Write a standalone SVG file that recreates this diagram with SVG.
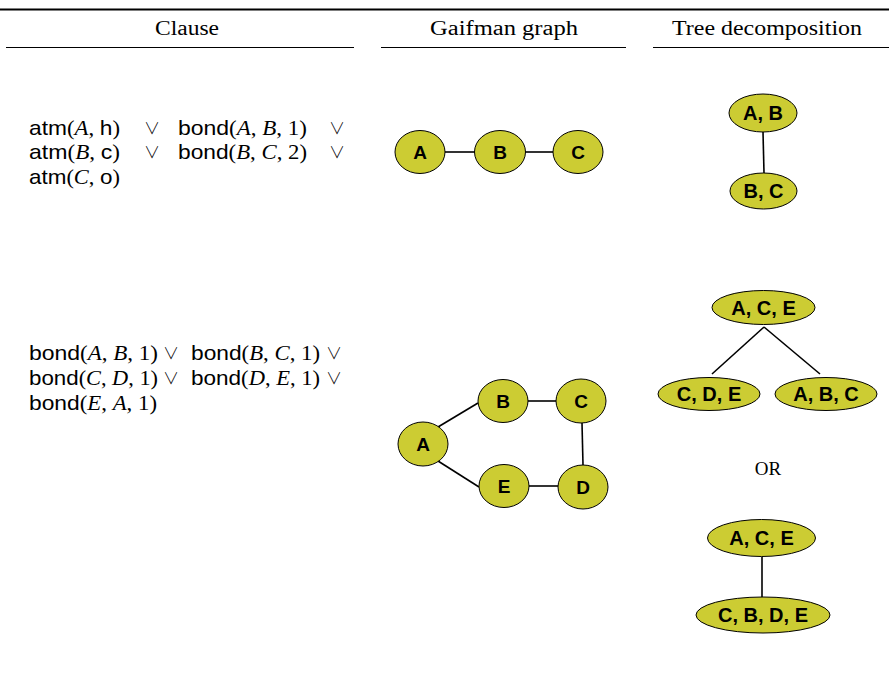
<svg xmlns="http://www.w3.org/2000/svg" width="889" height="673" viewBox="0 0 889 673">
  <style>
    .rule { stroke: #000; stroke-width: 1; }
    .head { font-family: "Liberation Serif", serif; font-size: 20px; fill: #000; text-anchor: middle; }
    .cl text { font-size: 21px; fill: #000; }
    .sf { font-family: "Liberation Sans", sans-serif; }
    .rm { font-family: "Liberation Serif", serif; }
    .it { font-family: "Liberation Serif", serif; font-style: italic; }
    .cl text.or { font-family: "Noto Sans CJK JP", "DejaVu Sans", sans-serif; font-weight: 300; font-size: 16px; text-anchor: middle; }
    .node ellipse { fill: #cccc33; stroke: #000; stroke-width: 1; }
    .node text { font-family: "Liberation Sans", Arial, sans-serif; font-weight: bold; font-size: 19px; fill: #000; text-anchor: middle; }
    .tnode text { font-size: 20px; }
    .edges line { stroke: #000; stroke-width: 1.6; }
  </style>

  <!-- table rules -->
  <line x1="0" y1="9.5" x2="889" y2="9.5" stroke="#000" stroke-width="2"/>
  <line class="rule" x1="6" y1="47.5" x2="354" y2="47.5"/>
  <line class="rule" x1="381" y1="47.5" x2="626" y2="47.5"/>
  <line class="rule" x1="653" y1="47.5" x2="889" y2="47.5"/>

  <!-- column headers -->
  <text class="head" x="187" y="35" textLength="64" lengthAdjust="spacingAndGlyphs">Clause</text>
  <text class="head" x="504" y="35" textLength="148" lengthAdjust="spacingAndGlyphs">Gaifman graph</text>
  <text class="head" x="767" y="35" textLength="190" lengthAdjust="spacingAndGlyphs">Tree decomposition</text>

  <!-- clause 1 -->
  <g id="clause1" class="cl">
    <text x="29" y="135" textLength="91" lengthAdjust="spacingAndGlyphs"><tspan class="sf">atm</tspan><tspan class="rm">(</tspan><tspan class="it">A</tspan><tspan class="rm">, </tspan><tspan class="sf">h</tspan><tspan class="rm">)</tspan></text>
    <text x="152" y="134" class="or">∨</text>
    <text x="178" y="135" textLength="129" lengthAdjust="spacingAndGlyphs"><tspan class="sf">bond</tspan><tspan class="rm">(</tspan><tspan class="it">A</tspan><tspan class="rm">, </tspan><tspan class="it">B</tspan><tspan class="rm">, 1)</tspan></text>
    <text x="337" y="134" class="or">∨</text>

    <text x="29" y="159" textLength="91" lengthAdjust="spacingAndGlyphs"><tspan class="sf">atm</tspan><tspan class="rm">(</tspan><tspan class="it">B</tspan><tspan class="rm">, </tspan><tspan class="sf">c</tspan><tspan class="rm">)</tspan></text>
    <text x="152" y="158" class="or">∨</text>
    <text x="178" y="159" textLength="129" lengthAdjust="spacingAndGlyphs"><tspan class="sf">bond</tspan><tspan class="rm">(</tspan><tspan class="it">B</tspan><tspan class="rm">, </tspan><tspan class="it">C</tspan><tspan class="rm">, 2)</tspan></text>
    <text x="337" y="158" class="or">∨</text>

    <text x="29" y="184" textLength="91" lengthAdjust="spacingAndGlyphs"><tspan class="sf">atm</tspan><tspan class="rm">(</tspan><tspan class="it">C</tspan><tspan class="rm">, </tspan><tspan class="sf">o</tspan><tspan class="rm">)</tspan></text>
  </g>

  <!-- clause 2 -->
  <g id="clause2" class="cl">
    <text x="29" y="360" textLength="129" lengthAdjust="spacingAndGlyphs"><tspan class="sf">bond</tspan><tspan class="rm">(</tspan><tspan class="it">A</tspan><tspan class="rm">, </tspan><tspan class="it">B</tspan><tspan class="rm">, 1)</tspan></text>
    <text x="171" y="359" class="or">∨</text>
    <text x="191" y="360" textLength="129" lengthAdjust="spacingAndGlyphs"><tspan class="sf">bond</tspan><tspan class="rm">(</tspan><tspan class="it">B</tspan><tspan class="rm">, </tspan><tspan class="it">C</tspan><tspan class="rm">, 1)</tspan></text>
    <text x="334" y="359" class="or">∨</text>

    <text x="29" y="385" textLength="129" lengthAdjust="spacingAndGlyphs"><tspan class="sf">bond</tspan><tspan class="rm">(</tspan><tspan class="it">C</tspan><tspan class="rm">, </tspan><tspan class="it">D</tspan><tspan class="rm">, 1)</tspan></text>
    <text x="171" y="384" class="or">∨</text>
    <text x="191" y="385" textLength="129" lengthAdjust="spacingAndGlyphs"><tspan class="sf">bond</tspan><tspan class="rm">(</tspan><tspan class="it">D</tspan><tspan class="rm">, </tspan><tspan class="it">E</tspan><tspan class="rm">, 1)</tspan></text>
    <text x="334" y="384" class="or">∨</text>

    <text x="29" y="410" textLength="128" lengthAdjust="spacingAndGlyphs"><tspan class="sf">bond</tspan><tspan class="rm">(</tspan><tspan class="it">E</tspan><tspan class="rm">, </tspan><tspan class="it">A</tspan><tspan class="rm">, 1)</tspan></text>
  </g>

  <!-- connectors -->
  <g id="edges" class="edges">
    <!-- gaifman graph 1 -->
    <line x1="445" y1="152" x2="475" y2="152"/>
    <line x1="525" y1="152" x2="553" y2="152"/>
    <!-- tree 1 -->
    <line x1="763" y1="132" x2="764" y2="173"/>
    <!-- gaifman graph 2 -->
    <line x1="438" y1="427" x2="478" y2="403"/>
    <line x1="528" y1="401" x2="556" y2="401"/>
    <line x1="582" y1="423" x2="583" y2="465"/>
    <line x1="438" y1="461" x2="479" y2="487"/>
    <line x1="529" y1="486" x2="558" y2="486"/>
    <!-- tree 2 -->
    <line x1="764" y1="327" x2="712" y2="374"/>
    <line x1="764" y1="327" x2="820" y2="374"/>
    <!-- tree 3 -->
    <line x1="762" y1="557" x2="762" y2="597"/>
  </g>

  <!-- gaifman graph 1 -->
  <g id="g1-A" class="node"><ellipse cx="420" cy="152" rx="25" ry="21.5"/><text x="420" y="159">A</text></g>
  <g id="g1-B" class="node"><ellipse cx="500" cy="152" rx="25.5" ry="21.5"/><text x="500" y="159">B</text></g>
  <g id="g1-C" class="node"><ellipse cx="578" cy="152" rx="25" ry="21.5"/><text x="578" y="159">C</text></g>

  <!-- tree decomposition 1 -->
  <g id="t1-AB" class="node tnode"><ellipse cx="763" cy="113" rx="34" ry="19"/><text x="763" y="120">A, B</text></g>
  <g id="t1-BC" class="node tnode"><ellipse cx="763.5" cy="191" rx="33.5" ry="18"/><text x="763.5" y="198">B, C</text></g>

  <!-- gaifman graph 2 -->
  <g id="g2-A" class="node"><ellipse cx="423" cy="444" rx="25" ry="22"/><text x="423" y="451">A</text></g>
  <g id="g2-B" class="node"><ellipse cx="503" cy="401" rx="25" ry="21.5"/><text x="503" y="408">B</text></g>
  <g id="g2-C" class="node"><ellipse cx="581" cy="401" rx="25" ry="22"/><text x="581" y="408">C</text></g>
  <g id="g2-E" class="node"><ellipse cx="504" cy="486" rx="25" ry="21.5"/><text x="504" y="493">E</text></g>
  <g id="g2-D" class="node"><ellipse cx="583" cy="487" rx="25" ry="22"/><text x="583" y="494">D</text></g>

  <!-- tree decomposition 2 -->
  <g id="t2-ACE" class="node tnode"><ellipse cx="763.5" cy="307.5" rx="51.5" ry="17"/><text x="763.5" y="314.5">A, C, E</text></g>
  <g id="t2-CDE" class="node tnode"><ellipse cx="709" cy="394" rx="51" ry="16.5"/><text x="709" y="401">C, D, E</text></g>
  <g id="t2-ABC" class="node tnode"><ellipse cx="826" cy="394" rx="51" ry="16.5"/><text x="826" y="401">A, B, C</text></g>

  <text x="768" y="475" font-family="Liberation Serif, serif" font-size="19" text-anchor="middle">OR</text>

  <!-- tree decomposition 3 -->
  <g id="t3-ACE" class="node tnode"><ellipse cx="761.5" cy="538" rx="54" ry="18.5"/><text x="761.5" y="545">A, C, E</text></g>
  <g id="t3-CBDE" class="node tnode"><ellipse cx="763" cy="615" rx="67" ry="18"/><text x="763" y="622">C, B, D, E</text></g>
</svg>
